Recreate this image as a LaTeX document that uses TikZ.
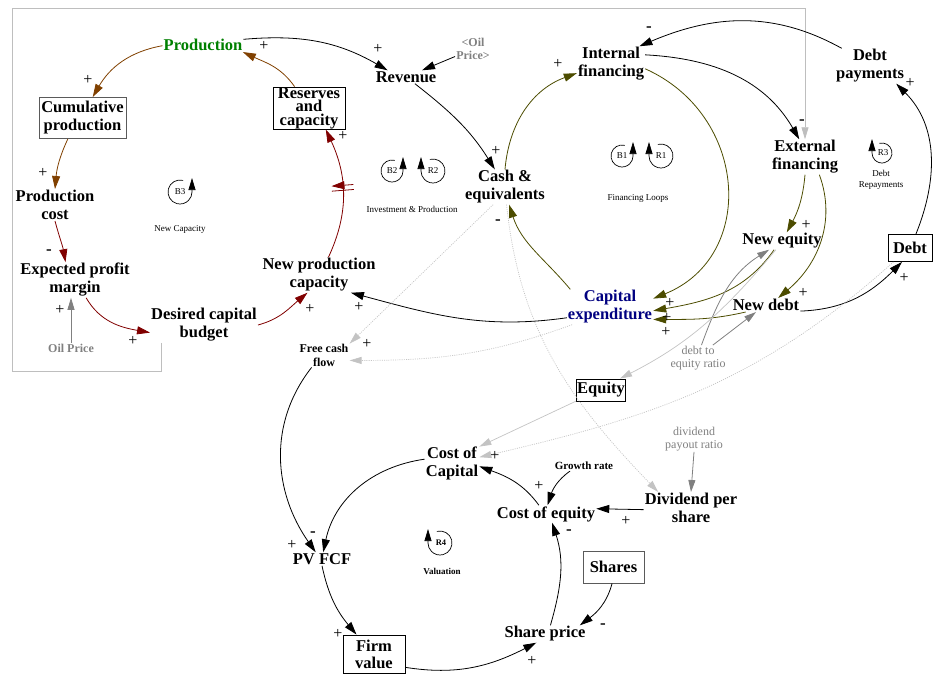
\documentclass[tikz,border=0pt]{standalone}
\usepackage{fontspec}
\setmainfont{Liberation Serif}
\usetikzlibrary{arrows.meta,decorations.markings}
\definecolor{prodgreen}{RGB}{0,128,0}
\definecolor{capexblue}{RGB}{0,0,128}
\definecolor{loopbrown}{RGB}{128,64,0}
\definecolor{loopred}{RGB}{128,0,0}
\definecolor{loopolive}{RGB}{76,76,0}
\definecolor{auxgray}{RGB}{128,128,128}
\definecolor{faintgray}{RGB}{195,195,195}
\definecolor{framegray}{RGB}{190,190,190}
\definecolor{stockgray}{RGB}{90,90,90}

\begin{document}
\begin{tikzpicture}[x=1pt,y=-1pt,
  lbl/.style={font=\fontsize{16.5}{18}\selectfont\bfseries,align=center,inner sep=1pt},
  smallb/.style={font=\fontsize{12}{14}\selectfont\bfseries,align=center,inner sep=1pt},
  auxb/.style={font=\fontsize{12}{13}\selectfont\bfseries,text=auxgray,align=center,inner sep=1pt},
  aux/.style={font=\fontsize{12}{12.5}\selectfont,text=auxgray,align=center,inner sep=1pt},
  stock/.style={lbl,draw=black,line width=0.9pt,inner sep=0pt},
  pol/.style={font=\fontsize{16}{16}\selectfont,inner sep=0pt},
  neg/.style={font=\fontsize{17}{17}\selectfont\bfseries,inner sep=0pt},
  looptxt/.style={font=\fontsize{9}{11}\selectfont,align=center,inner sep=0pt},
  loopmark/.style={-{Triangle[length=12pt,width=7pt]},line width=0.7pt},
  link/.style={-{Triangle[length=13pt,width=8pt]},line width=0.8pt},
  auxlink/.style={draw=auxgray,-{Triangle[length=12pt,width=7pt]},line width=0.8pt},
  faint/.style={draw=faintgray,-{Triangle[length=12pt,width=7pt]},line width=0.7pt},
  faintdots/.style={faint,dash pattern=on 1pt off 1.2pt},
  delaymark/.style={postaction={decorate,decoration={markings,
      mark=at position 0.54 with {\draw[loopred,line width=0.8pt]
        (-2.5pt,-11pt) -- (-2.5pt,11pt) (2.5pt,-11pt) -- (2.5pt,11pt);}}}}
]
\useasboundingbox (0,0) rectangle (936,675);

% ---------- variables ----------
\node[lbl,text=prodgreen] (prod) at (203,45) {Production};
\node[stock,draw=stockgray,minimum width=87pt,minimum height=41pt] (cum) at (82.5,118) {Cumulative\\production};
\node[lbl] (pcost) at (55,205) {Production\\cost};
\node[lbl] (epm) at (75,280) {Expected profit\\margin};
\node[auxb] (oil) at (71,348) {Oil Price};
\node[lbl] (dcb) at (204,325) {Desired capital\\budget};
\node[lbl] (npc) at (319,275) {New production\\capacity};
\node[stock,minimum width=72pt,minimum height=42pt,font=\fontsize{16.5}{13.5}\selectfont\bfseries] (res) at (309,108) {Reserves\\and\\capacity};
\node[lbl] (rev) at (406,77) {Revenue};
\node[auxb] (oilr) at (473,49) {<Oil\\Price>};
\node[lbl] (cash) at (505,187) {Cash \&\\equivalents};
\node[lbl] (intf) at (611,64) {Internal\\financing};
\node[lbl] (dpay) at (870,66) {Debt\\payments};
\node[lbl] (extf) at (805,157) {External\\financing};
\node[lbl] (neq) at (782,241) {New equity};
\node[lbl] (ndebt) at (766,305) {New debt};
\node[stock,minimum width=44pt,minimum height=27pt] (debt) at (910,248) {Debt};
\node[lbl,text=capexblue] (capex) at (610,307) {Capital\\expenditure};
\node[aux] (dte) at (698,358) {debt to\\equity ratio};
\node[smallb] (fcf) at (324,355) {Free cash\\flow};
\node[stock,minimum width=49pt,minimum height=22pt] (equity) at (601,390) {Equity};
\node[aux] (dpr) at (694,439) {dividend\\payout ratio};
\node[lbl] (coc) at (452,463) {Cost of\\Capital};
\node[smallb,font=\fontsize{11}{12}\selectfont\bfseries] (gr) at (584,466) {Growth rate};
\node[lbl] (coe) at (546,514) {Cost of equity};
\node[lbl] (div) at (691,508) {Dividend per\\share};
\node[lbl] (pvfcf) at (322,559) {PV FCF};
\node[stock,draw=stockgray,minimum width=61pt,minimum height=32pt] (shares) at (613.5,567) {Shares};
\node[lbl] (sp) at (545,634) {Share price};
\node[stock,minimum width=62pt,minimum height=38pt,font=\fontsize{16.5}{17}\selectfont\bfseries] (firm) at (374,654) {Firm\\value};

% ---------- new capacity loop ----------
\draw[link,loopbrown] (prod.181) to[out=190,in=60] (cum.64);
\draw[link,loopbrown] (cum.235) to[out=245,in=85] (pcost.north);
\draw[link,loopred] (pcost.south) to[out=285,in=100] (epm.118);
\draw[link,loopred] (epm.302) to[out=300,in=170] (dcb.188);
\draw[link,loopred] (dcb.east) to[out=15,in=220] (npc.237);
\draw[link,loopred,delaymark] (npc.62) to[out=65,in=295] (res.308);
\draw[link,loopbrown] (res.124) to[out=125,in=335] (prod.350);
\draw[auxlink] (oil.north) -- (epm.south -| oil.north);

% budget frame link
\draw[draw=framegray,line width=0.8pt,-{Triangle[length=12pt,width=7pt]}]
  ([xshift=11pt]dcb.south west) |- (12,371) |- (805,8) -- (extf.north);

% ---------- investment and financing ----------
\draw[link] (prod.8) to[out=5,in=150] (rev.160);
\draw[link] (oilr) -- (rev);
\draw[link] (rev.323) to[out=-38,in=122] (cash.120);
\draw[link,loopolive] (cash.north) to[out=85,in=200] (intf.195);
\draw[link,loopolive] (capex.156) to[out=130,in=-72] (cash.283);
\draw[link,loopolive] (intf.352) to[out=-24,in=22,looseness=1.25] (capex.11);
\draw[link] (intf.15) to[out=-3,in=120] (extf.108);
\draw[link] (dpay.148) to[out=151,in=23] (intf.32);
\draw[link,loopolive] (extf.south) to[out=265,in=62] (neq.61);
\draw[link,loopolive] (extf.309) to[out=-70,in=40] (ndebt.30);
\draw[link,loopolive] (neq.228) to[out=235,in=10] (capex.355);
\draw[link,loopolive] (ndebt.199) to[out=193,in=0] (capex.344);
\draw[link] (ndebt.350) to[out=2,in=225] (debt.240);
\draw[link] (debt.67) to[out=68,in=315] (dpay.326);
\draw[auxlink] (dte.75) to[out=70,in=212] (neq.214);
\draw[auxlink] (dte.41) -- (ndebt.215);
\draw[link] (capex.194) to[out=188,in=345] (npc.331);

% ---------- links into valuation ----------
\draw[faintdots] (cash.236) -- (fcf.24);
\draw[faintdots] (capex.205) to[out=200,in=0] (fcf.348);
\draw[faintdots] (cash.275) to[out=276,in=134] (div.154);
\draw[faint] (neq.235) to[out=230,in=27] (equity.31);
\draw[faint] (equity.204) -- (coc.31);
\draw[faintdots] (debt.220) to[out=222,in=13] (coc.12);

% ---------- valuation loop ----------
\draw[link] (fcf.225) to[out=232,in=125] (pvfcf.133);
\draw[link] (coc.172) to[out=188,in=78] (pvfcf.80);
\draw[link] (pvfcf.south) to[out=-78,in=130] (firm.132);
\draw[link] (firm.337) to[out=-9,in=207] (sp.225);
\draw[link] (sp.58) to[out=74,in=288] (coe.305);
\draw[link] (coe.129) to[out=126,in=340] (coc.353);
\draw[link] (gr.200) to[out=215,in=72] (coe.80);
\draw[link] (div.182) -- (coe.6);
\draw[link] (shares.265) to[out=255,in=37] (sp.14);
\draw[auxlink] (dpr.south) -- (div.north);

% ---------- polarities ----------
\node[pol] (s1) at (88,80) {+};
\node[pol] (s2) at (264,46) {+};
\node[pol] (s3) at (378,49) {+};
\node[pol] (s4) at (43,173) {+};
\node[neg] (s5) at (49,252) {-};
\node[pol] (s6) at (60,310) {+};
\node[pol] (s7) at (133,341) {+};
\node[pol] (s8) at (310,309) {+};
\node[pol] (s9) at (343,136) {+};
\node[pol] (s10) at (359,307) {+};
\node[pol] (s11) at (496,151) {+};
\node[pol] (s12) at (558,64) {+};
\node[neg] (s13) at (498,222) {-};
\node[neg] (s14) at (649,29) {-};
\node[neg] (s15) at (802,122) {-};
\node[pol] (s16) at (806,225) {+};
\node[pol] (s17) at (803,293) {+};
\node[pol] (s18) at (670,303) {+};
\node[pol] (s19) at (667,318) {+};
\node[pol] (s20) at (666,332) {+};
\node[pol] (s21) at (904,278) {+};
\node[pol] (s22) at (910,83) {+};
\node[pol] (s23) at (367,344) {+};
\node[pol] (s24) at (495,456) {+};
\node[pol] (s25) at (292,545) {+};
\node[neg] (s26) at (313,534) {-};
\node[pol] (s27) at (338,634) {+};
\node[pol] (s28) at (532,661) {+};
\node[neg] (s29) at (569,532) {-};
\node[pol] (s30) at (539,486) {+};
\node[pol] (s31) at (626,521) {+};
\node[neg] (s32) at (603,626) {-};

% ---------- loop markers ----------
\draw[loopmark] (180,192) ++(75:12pt) arc[start angle=75,end angle=360,radius=12pt] -- ++(0pt,14pt);
\node[looptxt] (b3) at (180,192) {B3};
\node[looptxt] (b3n) at (180,229) {New Capacity};

\draw[loopmark] (392,171) ++(75:11pt) arc[start angle=75,end angle=360,radius=11pt] -- ++(0pt,14pt);
\node[looptxt] (b2) at (392,171) {B2};
\draw[loopmark] (433,171) ++(105:12pt) arc[start angle=105,end angle=-180,radius=12pt] -- ++(0pt,14pt);
\node[looptxt] (r2) at (433,171) {R2};
\node[looptxt] (b2n) at (412,209) {Investment \& Production};

\draw[loopmark] (622,156) ++(75:11pt) arc[start angle=75,end angle=360,radius=11pt] -- ++(0pt,14pt);
\node[looptxt] (b1) at (622,156) {B1};
\draw[loopmark] (661,156) ++(105:12pt) arc[start angle=105,end angle=-180,radius=12pt] -- ++(0pt,14pt);
\node[looptxt] (r1) at (661,156) {R1};
\node[looptxt] (b1n) at (638,198) {Financing Loops};

\draw[loopmark] (882,153) ++(105:10pt) arc[start angle=105,end angle=-180,radius=10pt] -- ++(0pt,14pt);
\node[looptxt] (r3) at (883,153) {R3};
\node[looptxt] (r3n) at (881,180) {Debt\\Repayments};

\draw[loopmark] (440,543) ++(105:12pt) arc[start angle=105,end angle=-180,radius=12pt] -- ++(0pt,14pt);
\node[looptxt,font=\fontsize{8.5}{10}\selectfont\bfseries] (r4) at (441,543) {R4};
\node[looptxt,font=\fontsize{9}{11}\selectfont\bfseries] (r4n) at (442,571) {Valuation};
\end{tikzpicture}
\end{document}
